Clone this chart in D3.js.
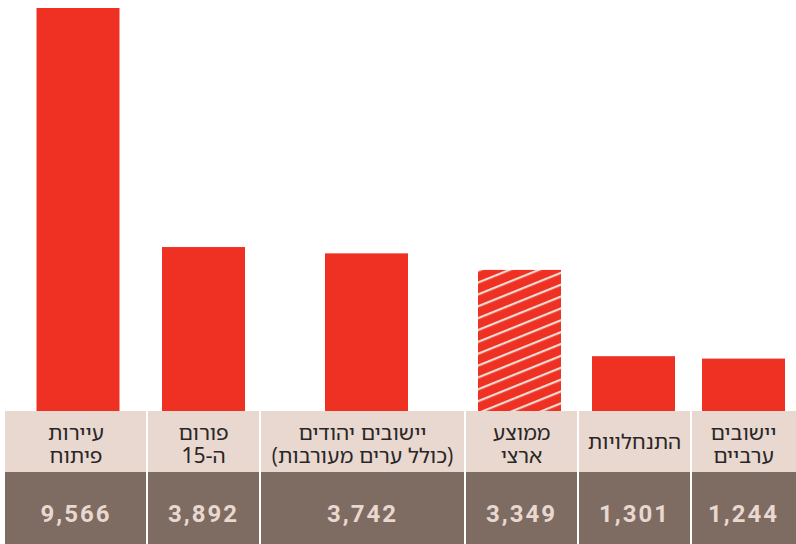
<!DOCTYPE html>
<html>
<head>
<meta charset="utf-8">
<script src="https://cdn.jsdelivr.net/npm/d3@7"></script>
<style>
  body { margin: 0; background: #fff; }
  svg { display: block; }
</style>
</head>
<body>
<script>
// data, left to right as in the picture
const labels = [
    ["עיירות", "פיתוח"],
    ["פורום", "ה-15"],
    ["יישובים יהודים", "(כולל ערים מעורבות)"],
    ["ממוצע", "ארצי"],
    ["התנחלויות"],
    ["יישובים", "ערביים"]
]
const values = [9566, 3892, 3742, 3349, 1301, 1244]
const hatched = [false, false, false, true, false, false]

// layout
const W = 796, H = 544
const tableLeft = 5
const colWidths = [142, 113, 205, 113, 113, 105]
const barShift = [2, 0, 4, -2, -1, 0]   // bars are not quite centred in their column
const barW = 83
const baseY = 411      // top of the label row
const labelRowH = 61
const red = "#EF3124"

const svg = d3.select("body").append("svg")
    .attr("width", W)
    .attr("height", H)

// hatch pattern for the national average
const defs = svg.append("defs")
const pat = defs.append("pattern")
    .attr("id", "hatch")
    .attr("patternUnits", "userSpaceOnUse")
    .attr("width", 11)
    .attr("height", 11)
    .attr("patternTransform", "rotate(68)")
pat.append("rect").attr("width", 11).attr("height", 11).attr("fill", red)
pat.append("rect").attr("x", 0).attr("width", 2.2).attr("height", 11).attr("fill", "#F0DCD3")

// column edges
const edges = [tableLeft]
colWidths.forEach(w => edges.push(edges[edges.length - 1] + w))
const colX = i => edges[i]
const colCenter = i => (edges[i] + edges[i + 1]) / 2

const yScale = d3.scaleLinear()
    .domain([0, 9566])
    .range([baseY, 8])

// bars
svg.selectAll("rect.bar")
    .data(values)
    .enter()
    .append("rect")
    .attr("class", "bar")
    .attr("x", (d, i) => colCenter(i) + barShift[i] - barW / 2)
    .attr("y", d => yScale(d))
    .attr("width", barW)
    .attr("height", d => baseY - yScale(d))
    .attr("fill", (d, i) => hatched[i] ? "url(#hatch)" : red)

// table rows
const table = svg.append("g")
table.selectAll("rect.lab")
    .data(labels)
    .enter()
    .append("rect")
    .attr("x", (d, i) => colX(i))
    .attr("y", baseY)
    .attr("width", (d, i) => colWidths[i])
    .attr("height", labelRowH)
    .attr("fill", "#E8D8D0")

table.selectAll("rect.val")
    .data(values)
    .enter()
    .append("rect")
    .attr("x", (d, i) => colX(i))
    .attr("y", baseY + labelRowH)
    .attr("width", (d, i) => colWidths[i])
    .attr("height", H - baseY - labelRowH)
    .attr("fill", "#7E6B62")

// white separators
table.selectAll("line.sep")
    .data(edges.slice(1, -1))
    .enter()
    .append("line")
    .attr("x1", d => d).attr("x2", d => d)
    .attr("y1", baseY).attr("y2", H)
    .attr("stroke", "#fff")
    .attr("stroke-width", 2)

// label text
const fmt = d3.format(",")
labels.forEach((lines, i) => {
    const t = table.append("text")
        .attr("direction", "rtl")
        .attr("text-anchor", "middle")
        .style("font-family", "'Noto Sans Hebrew', 'Noto Sans', 'DejaVu Sans', sans-serif")
        .style("font-size", "21px")
        .attr("fill", "#2A2626")
    const top = lines.length == 1 ? 449 : 440
    lines.forEach((s, j) => {
        t.append("tspan")
            .attr("x", colCenter(i))
            .attr("y", top + j * 23)
            .text(s)
    })
})

// value text
table.selectAll("text.val")
    .data(values)
    .enter()
    .append("text")
    .attr("x", (d, i) => colCenter(i))
    .attr("y", 522)
    .attr("text-anchor", "middle")
    .style("font-family", "Roboto, 'DejaVu Sans', sans-serif")
    .style("font-weight", "bold")
    .style("font-size", "24px")
    .style("letter-spacing", "2px")
    .attr("fill", "#E8D8D0")
    .text(d => fmt(d))
</script>
</body>
</html>
